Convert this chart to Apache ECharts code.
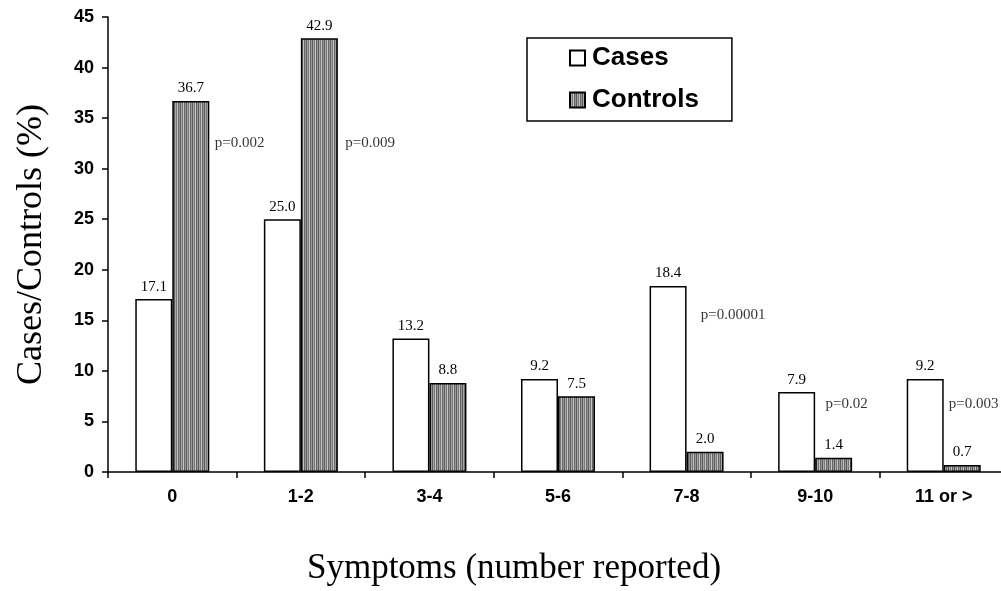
<!DOCTYPE html>
<html lang="en">
<head>
    <meta charset="UTF-8">
    <title>Symptoms</title>
</head>
<body style="margin:0;background:#fff;">
<div id="main" style="width:1001px;height:591px;"></div>
<script src="https://cdn.jsdelivr.net/npm/echarts@6/dist/echarts.min.js"></script>
<script type="text/javascript">
    // categories on x axis
    var groups = ['0', '1-2', '3-4', '5-6', '7-8', '9-10', '11 or >'];
    // percentages
    var cases = [17.1, 25.0, 13.2, 9.2, 18.4, 7.9, 9.2];
    var controls = [36.7, 42.9, 8.8, 7.5, 2.0, 1.4, 0.7];
    // p-value notes and where they sit (category units / percent units)
    var pText = ['p=0.002', 'p=0.009', 'p=0.00001', 'p=0.02', 'p=0.003'];
    var pAtX = [0.33, 1.345, 4.11, 5.08, 6.04];
    var pAtY = [32.5, 32.5, 15.5, 6.7, 6.7];

    var serif = '"Liberation Serif", "Times New Roman", serif';
    var sans = '"Liberation Sans", Arial, sans-serif';

    // vertical stripe fill for controls
    var cv = document.createElement('canvas');
    cv.width = 6; cv.height = 4;
    var ctx = cv.getContext('2d');
    var stripes = ['#5a5a5a', '#a8a8a8', '#767676', '#c4c4c4', '#666666', '#999999'];
    for (var i = 0; i < stripes.length; i++) {
        ctx.fillStyle = stripes[i];
        ctx.fillRect(i, 0, 1, 4);
    }

    var pData = [];
    for (var i = 0; i < pText.length; i++) {
        pData.push({value: [pAtX[i], pAtY[i]], name: pText[i]});
    }

    var myChart = echarts.init(document.getElementById('main'));
    myChart.setOption({
        animation: false,
        grid: {left: 108, right: -7, top: 17, bottom: 119, outerBoundsMode: 'none', containLabel: false},
        legend: {
            data: ['Cases', 'Controls'],
            orient: 'vertical',
            left: 527,
            top: 38,
            padding: [7, 33, 8, 42],
            itemGap: 16,
            itemWidth: 15,
            itemHeight: 15,
            icon: 'rect',
            borderColor: '#000',
            borderWidth: 1.5,
            textStyle: {fontFamily: sans, fontWeight: 'bold', fontSize: 26, color: '#000', padding: [0, 0, 0, 2]}
        },
        xAxis: [{
            type: 'category',
            data: groups,
            name: 'Symptoms (number reported)',
            nameLocation: 'middle',
            nameGap: 79,
            nameTextStyle: {fontFamily: serif, fontSize: 35, color: '#000', padding: [0, 88, 0, 0]},
            axisLine: {onZero: false, lineStyle: {color: '#000', width: 1.5}},
            axisTick: {show: true, length: 6, interval: 0, alignWithLabel: false, lineStyle: {color: '#000', width: 1.5}},
            axisLabel: {fontFamily: sans, fontWeight: 'bold', fontSize: 18, color: '#000', margin: 16, interval: 0}
        }, {
            type: 'value',
            min: -0.5,
            max: 6.5,
            show: false
        }],
        yAxis: {
            type: 'value',
            min: 0,
            max: 45,
            interval: 5,
            name: 'Cases/Controls (%)',
            nameLocation: 'middle',
            nameGap: 58,
            nameTextStyle: {fontFamily: serif, fontSize: 36, color: '#000'},
            splitLine: {show: false},
            axisLine: {show: true, onZero: false, lineStyle: {color: '#000', width: 1.5}},
            axisTick: {show: true, length: 6, lineStyle: {color: '#000', width: 1.5}},
            axisLabel: {fontFamily: sans, fontWeight: 'bold', fontSize: 18, color: '#000', margin: 14}
        },
        series: [
            {
                name: 'Cases',
                type: 'bar',
                data: cases,
                barWidth: 37,
                barGap: '0%',
                itemStyle: {color: '#fff', borderColor: '#000', borderWidth: 1.5},
                label: {
                    show: true, position: 'top', distance: 5,
                    fontFamily: serif, fontSize: 15, color: '#000',
                    formatter: function (p) { return p.value.toFixed(1); }
                }
            },
            {
                name: 'Controls',
                type: 'bar',
                data: controls,
                barWidth: 37,
                barGap: '0%',
                itemStyle: {color: {image: cv, repeat: 'repeat'}, borderColor: '#000', borderWidth: 1.5},
                label: {
                    show: true, position: 'top', distance: 5,
                    fontFamily: serif, fontSize: 15, color: '#000',
                    formatter: function (p) { return p.value.toFixed(1); }
                }
            },
            {
                name: 'p',
                type: 'scatter',
                xAxisIndex: 1,
                symbolSize: 0,
                data: pData,
                silent: true,
                itemStyle: {color: '#000'},
                label: {
                    show: true, position: 'right', distance: 0,
                    fontFamily: serif, fontSize: 15, color: '#000', textBorderWidth: 0,
                    formatter: function (p) { return p.name; }
                }
            }
        ]
    });
</script>
</body>
</html>
